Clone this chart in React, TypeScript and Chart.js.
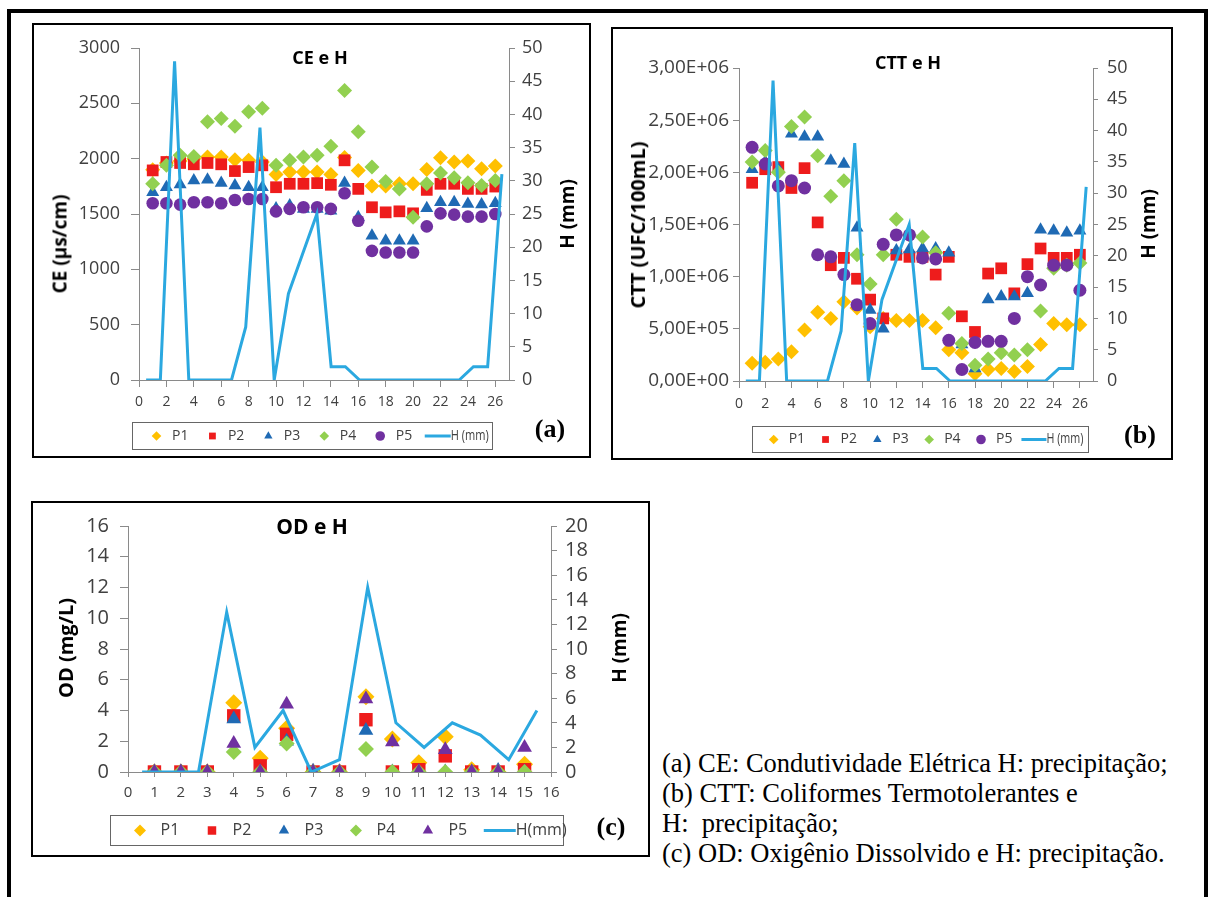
import React, { useEffect, useRef } from 'react';
import { Chart, registerables } from 'chart.js';
import { drawPoint } from 'chart.js/helpers';

Chart.register(...registerables);

const SANS = "'Open Sans', 'Noto Sans', sans-serif";
const SERIF = "'Liberation Serif', 'Times New Roman', serif";

// ---------------- data ----------------
const samples26 = [1, 2, 3, 4, 5, 6, 7, 8, 9, 10, 11, 12, 13, 14, 15, 16, 17, 18, 19, 20, 21, 22, 23, 24, 25, 26];
const samples15 = [1, 2, 3, 4, 5, 6, 7, 8, 9, 10, 11, 12, 13, 14, 15];
const seriesNames = ['P1', 'P2', 'P3', 'P4', 'P5'];

// (a) CE (µs/cm)
const ceP1 = [1900, 1960, 1980, 2000, 2015, 2015, 1990, 1985, 1970, 1858, 1879, 1879, 1879, 1858, 2010, 1894, 1752, 1752, 1773, 1773, 1903, 2009, 1970, 1979, 1909, 1933];
const ceP2 = [1894, 1970, 1961, 1949, 1961, 1949, 1888, 1924, 1940, 1742, 1773, 1773, 1779, 1764, 1985, 1727, 1561, 1515, 1524, 1506, 1718, 1773, 1773, 1727, 1727, 1748];
const ceP3 = [1697, 1742, 1767, 1803, 1809, 1779, 1758, 1742, 1742, 1550, 1576, 1546, 1546, 1530, 1779, 1470, 1303, 1258, 1258, 1258, 1552, 1606, 1606, 1591, 1585, 1597];
const ceP4 = [1773, 1940, 2030, 2020, 2333, 2364, 2294, 2424, 2455, 1940, 1985, 2015, 2030, 2112, 2615, 2243, 1925, 1794, 1727, 1470, 1773, 1870, 1827, 1782, 1758, 1803];
const ceP5 = [1597, 1597, 1585, 1606, 1606, 1597, 1627, 1636, 1636, 1524, 1546, 1561, 1561, 1546, 1688, 1439, 1167, 1152, 1152, 1152, 1388, 1506, 1494, 1476, 1476, 1500];
const rainA = [0, 0, 48, 0, 0, 0, 0, 8, 38, 0, 13, 19, 25, 2, 2, 0, 0, 0, 0, 0, 0, 0, 0, 2, 2, 31];

// (b) CTT (UFC/100mL)
const cttP1 = [0.17e6, 0.18e6, 0.21e6, 0.28e6, 0.49e6, 0.66e6, 0.6e6, 0.76e6, 0.7e6, 0.52e6, 0.6e6, 0.58e6, 0.58e6, 0.58e6, 0.51e6, 0.3e6, 0.27e6, 0.07e6, 0.11e6, 0.12e6, 0.09e6, 0.14e6, 0.35e6, 0.55e6, 0.54e6, 0.54e6];
const cttP2 = [1.9e6, 2.03e6, 2.05e6, 1.85e6, 2.04e6, 1.52e6, 1.11e6, 1.18e6, 0.98e6, 0.78e6, 0.6e6, 1.21e6, 1.19e6, 1.19e6, 1.02e6, 1.19e6, 0.62e6, 0.47e6, 1.03e6, 1.08e6, 0.84e6, 1.12e6, 1.27e6, 1.18e6, 1.18e6, 1.21e6];
const cttP3 = [2.03e6, 2.1e6, 2.03e6, 2.37e6, 2.34e6, 2.34e6, 2.11e6, 2.08e6, 1.47e6, 0.68e6, 0.5e6, 1.25e6, 1.26e6, 1.27e6, 1.27e6, 1.23e6, 0.35e6, 0.12e6, 0.78e6, 0.81e6, 0.81e6, 0.84e6, 1.45e6, 1.44e6, 1.42e6, 1.44e6];
const cttP4 = [2.1e6, 2.21e6, 2.0e6, 2.44e6, 2.53e6, 2.16e6, 1.77e6, 1.92e6, 1.21e6, 0.93e6, 1.21e6, 1.55e6, 1.4e6, 1.38e6, 1.23e6, 0.65e6, 0.36e6, 0.15e6, 0.21e6, 0.27e6, 0.25e6, 0.3e6, 0.67e6, 1.08e6, 1.11e6, 1.13e6];
const cttP5 = [2.24e6, 2.08e6, 1.87e6, 1.92e6, 1.85e6, 1.21e6, 1.19e6, 1.02e6, 0.73e6, 0.55e6, 1.31e6, 1.4e6, 1.4e6, 1.18e6, 1.17e6, 0.39e6, 0.11e6, 0.37e6, 0.38e6, 0.38e6, 0.6e6, 1.0e6, 0.92e6, 1.11e6, 1.11e6, 0.87e6];
const rainB = [0, 0, 48, 0, 0, 0, 0, 8, 38, 0, 13, 19, 25, 2, 2, 0, 0, 0, 0, 0, 0, 0, 0, 2, 2, 31];

// (c) OD (mg/L)
const odP1 = [0, 0, 0, 4.5, 0.9, 2.85, 0, 0, 4.9, 2.15, 0.6, 2.3, 0.15, 0, 0.5];
const odP2 = [0, 0, 0, 3.65, 0.4, 2.45, 0, 0, 3.4, 0, 0.15, 1.05, 0, 0, 0.15];
const odP3 = [0, 0, 0, 3.45, 0, 2.0, 0.05, 0, 2.7, 0, 0, 0, 0, 0.1, 0];
const odP4 = [0, 0, 0, 1.3, 0, 1.85, 0, 0, 1.5, 0, 0, 0, 0, 0, 0];
const odP5 = [0, 0, 0, 1.85, 0, 4.4, 0, 0, 4.75, 1.95, 0, 1.45, 0, 0, 1.6];
const rainC = [0, 0, 0, 13, 2, 5, 0, 1, 15, 4, 2, 4, 3, 1, 5];

// ---------------- styles ----------------
const COLORS = ['#FFC000', '#EE1C1C', '#1F6AB4', '#92D050', '#7030A0'];
const H_COLOR = '#2BA8E0';
const TICK_COLOR = '#404040';
const AXIS_COLOR = '#8a8a8a';

function sciLabel(v: number): string {
  if (v === 0) return '0,00E+00';
  const e = Math.floor(Math.log10(v) + 1e-9);
  const m = v / Math.pow(10, e);
  return `${m.toFixed(2).replace('.', ',')}E+${String(e).padStart(2, '0')}`;
}

const boxLegend = {
  id: 'boxLegend',
  afterDraw(chart: any, _args: any, o: any) {
    if (!o || !o.box) return;
    const ctx = chart.ctx as CanvasRenderingContext2D;
    const [bx, by, bw, bh] = o.box;
    ctx.save();
    ctx.strokeStyle = '#666';
    ctx.lineWidth = 1;
    ctx.strokeRect(bx + 0.5, by + 0.5, bw, bh);
    ctx.font = `${o.font}px ${SANS}`;
    ctx.textBaseline = 'middle';
    const cy = by + bh / 2 + 0.5;
    let cx = bx + o.start;
    chart.data.datasets.forEach((ds: any) => {
      if (ds.type === 'line') {
        const lx = cx - o.d2 + o.lineGap;
        ctx.strokeStyle = ds.borderColor;
        ctx.lineWidth = 3;
        ctx.beginPath();
        ctx.moveTo(lx, cy);
        ctx.lineTo(lx + o.lineLen, cy);
        ctx.stroke();
        ctx.fillStyle = TICK_COLOR;
        ctx.fillText(ds.label, lx + o.lineLen, cy, o.lineTextMax);
      } else {
        ctx.fillStyle = ds.backgroundColor;
        drawPoint(ctx, { pointStyle: ds.pointStyle, radius: o.markerR, rotation: 0, borderWidth: 0 } as any, cx, cy);
        ctx.fillStyle = TICK_COLOR;
        const tx = cx + o.d1;
        ctx.fillText(ds.label, tx, cy);
        cx = tx + ctx.measureText(ds.label).width + o.d2;
      }
    });
    ctx.restore();
  },
};

interface AxisDef { min: number; max: number; step: number; font: number; size: number; pad: number; tick: number; fmt?: (v: number) => string }

function linearAxis(pos: 'left' | 'right' | 'bottom', a: AxisDef) {
  return {
    type: 'linear',
    position: pos,
    min: a.min,
    max: a.max,
    ticks: {
      stepSize: a.step,
      includeBounds: false,
      autoSkip: false,
      maxRotation: 0,
      padding: a.pad,
      color: TICK_COLOR,
      font: { family: SANS, size: a.font },
      callback: (v: any) => (a.fmt ? a.fmt(Number(v)) : String(v)),
    },
    grid: { display: true, drawOnChartArea: false, drawTicks: true, tickLength: a.tick, color: AXIS_COLOR, lineWidth: 1 },
    border: { display: true, color: AXIS_COLOR, width: 1 },
    afterFit: (s: any) => {
      if (pos === 'bottom') s.height = a.size;
      else s.width = a.size;
    },
  };
}

interface SeriesDef { values: number[]; style: string; radius: number }

function buildConfig(xs: number[], series: SeriesDef[], rain: number[], rainLabel: string,
  xA: AxisDef, yA: AxisDef, y2A: AxisDef, top: number, legend: any): any {
  const datasets: any[] = series.map((s, i) => ({
    type: 'scatter',
    label: seriesNames[i],
    data: xs.map((xv, k) => ({ x: xv, y: s.values[k] })),
    pointStyle: s.style,
    pointRadius: s.radius,
    pointHoverRadius: s.radius,
    backgroundColor: COLORS[i],
    borderColor: COLORS[i],
    pointBorderWidth: 0,
    xAxisID: 'x',
    yAxisID: 'y',
    order: series.length - i,
  }));
  datasets.push({
    type: 'line',
    label: rainLabel,
    data: rain,
    xAxisID: 'x2',
    yAxisID: 'y2',
    borderColor: H_COLOR,
    backgroundColor: H_COLOR,
    borderWidth: 3,
    pointRadius: 0,
    tension: 0,
    fill: false,
    order: 0,
  });
  return {
    type: 'line',
    data: { datasets },
    options: {
      animation: false,
      responsive: false,
      events: [],
      layout: { padding: { top, left: 0, right: 0, bottom: 0 } },
      plugins: { legend: { display: false }, tooltip: { enabled: false }, title: { display: false }, boxLegend: legend },
      scales: {
        x: linearAxis('bottom', xA),
        x2: { type: 'category', labels: xs.map(String), offset: true, display: false },
        y: linearAxis('left', yA),
        y2: linearAxis('right', y2A),
      },
    },
    plugins: [boxLegend],
  };
}

const configA = () => buildConfig(
  samples26,
  [
    { values: ceP1, style: 'rectRot', radius: 7.5 },
    { values: ceP2, style: 'rect', radius: 8.3 },
    { values: ceP3, style: 'triangle', radius: 7.5 },
    { values: ceP4, style: 'rectRot', radius: 7.5 },
    { values: ceP5, style: 'circle', radius: 6.3 },
  ],
  rainA, 'H (mm)',
  { min: 0, max: 27, step: 2, font: 14, size: 76, pad: 7, tick: 7 },
  { min: 0, max: 3000, step: 500, font: 18, size: 105, pad: 11, tick: 8 },
  { min: 0, max: 50, step: 5, font: 18, size: 80, pad: 7, tick: 6 },
  23,
  { box: [98, 397, 360, 27], start: 24.5, d1: 15.5, d2: 24, lineGap: 12.6, lineLen: 26, markerR: 4.8, font: 14, lineTextMax: 38 },
);

const configB = () => buildConfig(
  samples26,
  [
    { values: cttP1, style: 'rectRot', radius: 7.5 },
    { values: cttP2, style: 'rect', radius: 8.3 },
    { values: cttP3, style: 'triangle', radius: 7.5 },
    { values: cttP4, style: 'rectRot', radius: 7.5 },
    { values: cttP5, style: 'circle', radius: 6.5 },
  ],
  rainB, 'H (mm)',
  { min: 0, max: 27, step: 2, font: 14, size: 77, pad: 8, tick: 7 },
  { min: 0, max: 3000000, step: 500000, font: 19, size: 126, pad: 4, tick: 6, fmt: sciLabel },
  { min: 0, max: 50, step: 5, font: 18, size: 78, pad: 9, tick: 5 },
  39,
  { box: [139, 397, 336, 26], start: 21.7, d1: 15, d2: 20.4, lineGap: 9, lineLen: 25, markerR: 4.8, font: 14, lineTextMax: 37 },
);

const configC = () => buildConfig(
  samples15,
  [
    { values: odP1, style: 'rectRot', radius: 8.5 },
    { values: odP2, style: 'rect', radius: 9.5 },
    { values: odP3, style: 'triangle', radius: 8.5 },
    { values: odP4, style: 'rectRot', radius: 8 },
    { values: odP5, style: 'triangle', radius: 8.5 },
  ],
  rainC, 'H(mm)',
  { min: 0, max: 16, step: 1, font: 15, size: 83, pad: 7, tick: 5 },
  { min: 0, max: 16, step: 2, font: 20, size: 95, pad: 11, tick: 8 },
  { min: 0, max: 20, step: 2, font: 20, size: 97, pad: 8, tick: 6 },
  22,
  { box: [77, 312, 453, 30], start: 30, d1: 20.6, d2: 32.6, lineGap: 16.5, lineLen: 32, markerR: 6, font: 16, lineTextMax: 57 },
);

function ChartCanvas({ left, top, width, height, build }: { left: number; top: number; width: number; height: number; build: () => any }) {
  const ref = useRef<HTMLCanvasElement>(null);
  useEffect(() => {
    const chart = new Chart(ref.current as HTMLCanvasElement, build());
    return () => chart.destroy();
  }, []);
  return (
    <canvas ref={ref} width={width} height={height}
      style={{ position: 'absolute', left, top, width, height, display: 'block' }} />
  );
}

function Txt({ x, y, size, bold, family, rotate, children }: { x: number; y: number; size: number; bold?: boolean; family?: string; rotate?: boolean; children: React.ReactNode }) {
  return (
    <div style={{
      position: 'absolute', left: x, top: y,
      transform: `translate(-50%, -50%)${rotate ? ' rotate(-90deg)' : ''}`,
      fontFamily: family || SANS, fontSize: size, fontWeight: bold ? 700 : 400,
      whiteSpace: 'pre', lineHeight: 1, color: '#000',
    }}>{children}</div>
  );
}

function Frame({ left, top, width, height, border }: { left: number; top: number; width: number; height: number; border: number }) {
  return <div style={{ position: 'absolute', left, top, width, height, border: `${border}px solid #000`, boxSizing: 'border-box' }} />;
}

const captionLines = [
  '(a) CE: Condutividade Elétrica H: precipitação;',
  '(b) CTT: Coliformes Termotolerantes e',
  'H:  precipitação;',
  '(c) OD: Oxigênio Dissolvido e H: precipitação.',
];

export default function App() {
  return (
    <div style={{ position: 'absolute', left: 0, top: 0, width: 1208, height: 897, overflow: 'hidden', background: '#fff' }}>
      <Frame left={7} top={9} width={1201} height={930} border={4} />

      <Frame left={32} top={23} width={559} height={435} border={2} />
      <ChartCanvas left={34} top={25} width={555} height={431} build={configA} />
      <Txt x={320} y={57} size={18} bold>CE e H</Txt>
      <Txt x={60} y={244} size={19} bold rotate>CE (µs/cm)</Txt>
      <Txt x={567} y={214} size={19} bold rotate>H (mm)</Txt>
      <Txt x={550} y={429} size={26} bold family={SERIF}>(a)</Txt>

      <Frame left={611} top={27} width={562} height={433} border={2} />
      <ChartCanvas left={613} top={29} width={558} height={429} build={configB} />
      <Txt x={908} y={62} size={18} bold>CTT e H</Txt>
      <Txt x={638} y={225} size={20} bold rotate>CTT (UFC/100mL)</Txt>
      <Txt x={1148} y={224} size={19} bold rotate>H (mm)</Txt>
      <Txt x={1140} y={435} size={26} bold family={SERIF}>(b)</Txt>

      <Frame left={31} top={501} width={619} height={356} border={2} />
      <ChartCanvas left={33} top={503} width={615} height={352} build={configC} />
      <Txt x={312} y={526} size={21} bold>OD e H</Txt>
      <Txt x={66} y={648} size={20} bold rotate>OD (mg/L)</Txt>
      <Txt x={619} y={648} size={19} bold rotate>H (mm)</Txt>
      <Txt x={611} y={827} size={26} bold family={SERIF}>(c)</Txt>

      {captionLines.map((t, i) => (
        <div key={i} style={{
          position: 'absolute', left: 662, top: 748 + i * 30, height: 30, lineHeight: '30px',
          fontFamily: SERIF, fontSize: 26.5, whiteSpace: 'pre', color: '#000',
        }}>{t}</div>
      ))}
    </div>
  );
}
